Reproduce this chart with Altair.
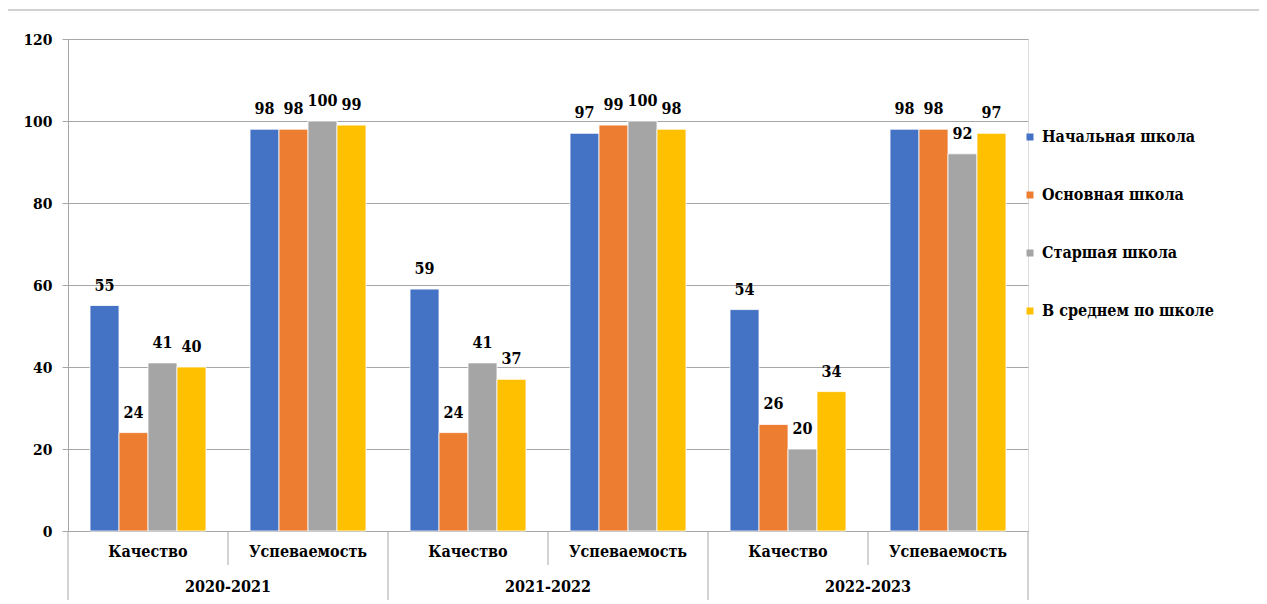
import altair as alt
import pandas as pd

years = ["2020-2021", "2021-2022", "2022-2023"]
categories = ["Качество", "Успеваемость"]
series = ["Начальная школа", "Основная школа", "Старшая школа", "В среднем по школе"]
colors = ["#4472C4", "#ED7D31", "#A5A5A5", "#FFC000"]

# values per series, in order: (2020-2021 Кач, Усп), (2021-2022 Кач, Усп), (2022-2023 Кач, Усп)
nachalnaya = [55, 98, 59, 97, 54, 98]
osnovnaya = [24, 98, 24, 99, 26, 98]
starshaya = [41, 100, 41, 100, 20, 92]
srednee = [40, 99, 37, 98, 34, 97]
y_ticks = [0, 20, 40, 60, 80, 100, 120]

FONT = "DejaVu Serif Condensed"
GRAY = "#A6A6A6"

keys = [f"{y}|{c}" for y in years for c in categories]
rows = []
for s, vals in zip(series, [nachalnaya, osnovnaya, starshaya, srednee]):
    for k, v in zip(keys, vals):
        rows.append({"key": k, "series": s, "value": v})
df = pd.DataFrame(rows)

cat_df = pd.DataFrame({"key": keys, "cat": [k.split("|")[1] for k in keys]})
year_df = pd.DataFrame({"key": [f"{y}|{categories[0]}" for y in years], "year": years})
short_df = pd.DataFrame({"key": [f"{y}|{categories[1]}" for y in years]})
long_df = pd.DataFrame({"key": [f"{y}|{categories[0]}" for y in years]})
end_df = pd.DataFrame({"key": [keys[-1]]})
one = pd.DataFrame({"a": [0]})

xscale = alt.Scale(domain=keys, paddingInner=0, paddingOuter=0)
xaxis = alt.Axis(labels=False, ticks=False, title=None, domainColor=GRAY, grid=False)


def X(bp=None):
    if bp is None:
        return alt.X("key:N", scale=xscale, axis=xaxis)
    return alt.X("key:N", scale=xscale, axis=xaxis, bandPosition=bp)


xoff = alt.XOffset("series:N", sort=series, scale=alt.Scale(domain=series, paddingInner=0, paddingOuter=0.76))
yenc = alt.Y(
    "value:Q",
    scale=alt.Scale(domain=[0, 120], nice=False),
    axis=alt.Axis(
        values=y_ticks, title=None, grid=True, gridColor=GRAY, tickColor=GRAY, domainColor=GRAY,
        tickSize=6, labelFont=FONT, labelFontSize=15.5, labelFontWeight="bold", labelColor="black",
        labelPadding=10,
    ),
)

bars = alt.Chart(df).mark_bar(stroke="white", strokeWidth=0.8).encode(
    x=X(),
    xOffset=xoff,
    y=yenc,
    color=alt.Color(
        "series:N",
        sort=series,
        scale=alt.Scale(domain=series, range=colors),
        legend=alt.Legend(
            title=None, orient="none", legendX=954, legendY=90, symbolType="square",
            symbolSize=49, symbolStrokeWidth=0, labelFont=FONT, labelFontSize=16,
            labelFontWeight="bold", labelColor="black", rowPadding=42, labelOffset=4,
            labelLimit=300,
        ),
    ),
)

labels = alt.Chart(df).mark_text(
    font=FONT, fontSize=16, fontWeight="bold", color="black", baseline="alphabetic", dy=-15
).encode(x=X(), xOffset=xoff, y="value:Q", text="value:Q")

cat_text = alt.Chart(cat_df).mark_text(
    font=FONT, fontSize=16, fontWeight="bold", color="black", baseline="middle"
).encode(x=X(), y=alt.value(513), text="cat:N")

year_text = alt.Chart(year_df).mark_text(
    font=FONT, fontSize=16, fontWeight="bold", color="black", baseline="middle"
).encode(x=X(1), y=alt.value(548), text="year:N")

short_rules = alt.Chart(short_df).mark_rule(color=GRAY, strokeWidth=1).encode(
    x=X(0), y=alt.value(492), y2=alt.value(526)
)
long_rules = alt.Chart(long_df).mark_rule(color=GRAY, strokeWidth=1).encode(
    x=X(0), y=alt.value(492), y2=alt.value(561)
)
end_rule = alt.Chart(end_df).mark_rule(color=GRAY, strokeWidth=1).encode(
    x=X(1), y=alt.value(492), y2=alt.value(561)
)

frame_left = alt.Chart(one).mark_rule(color=GRAY, strokeWidth=1.2).encode(
    x=alt.value(-61), y=alt.value(-29), y2=alt.value(580)
)
frame_top = alt.Chart(one).mark_rule(color=GRAY, strokeWidth=1.2).encode(
    x=alt.value(-61), x2=alt.value(1198), y=alt.value(-29)
)

chart = alt.layer(
    bars, labels, cat_text, year_text, short_rules, long_rules, end_rule, frame_left, frame_top
).properties(
    width=960,
    height=492,
    autosize=alt.AutoSizeParams(type="none"),
    padding={"left": 60, "top": 31, "right": 231, "bottom": 70},
).configure_view(stroke=None).configure(background="white")

chart.save("out.html", embed_options={"renderer": "svg", "actions": False})
